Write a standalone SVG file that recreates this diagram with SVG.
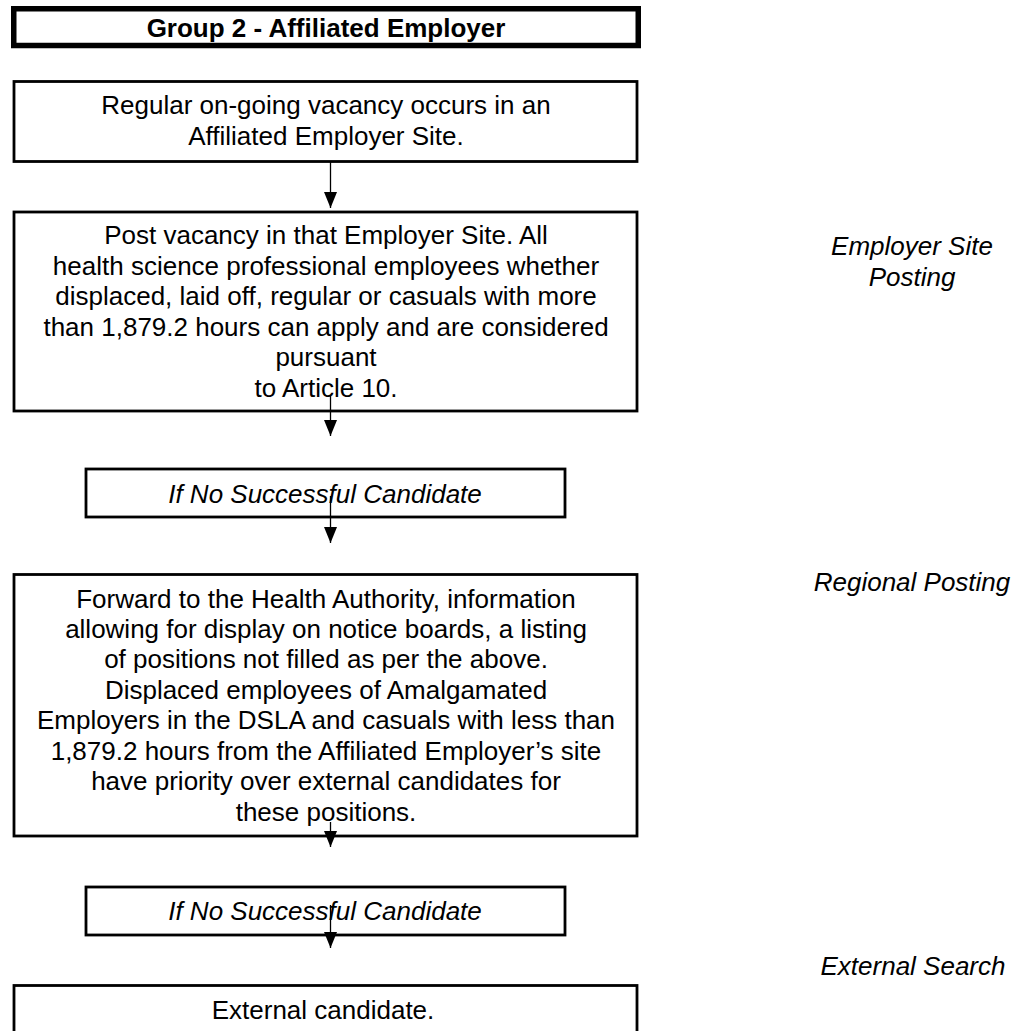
<svg xmlns="http://www.w3.org/2000/svg" width="1028" height="1031" viewBox="0 0 1028 1031">
  <style>
    .box { fill: #ffffff; stroke: #000000; stroke-width: 2.8; }
    .title-box { fill: #ffffff; stroke: #000000; stroke-width: 5.5; }
    .t { font-family: "Liberation Sans", Arial, sans-serif; font-size: 26px; fill: #000000; text-anchor: middle; }
    .b { font-weight: bold; }
    .i { font-style: italic; }
    .conn { stroke: #000000; stroke-width: 1.3; fill: none; marker-end: url(#arrow); }
  </style>
  <defs>
    <marker id="arrow" viewBox="0 0 16 13" refX="16" refY="6.5" markerWidth="16" markerHeight="13" markerUnits="userSpaceOnUse" orient="auto">
      <path d="M0,0 L16,6.5 L0,13 z" fill="#000000"/>
    </marker>
  </defs>
  <rect width="1028" height="1031" fill="#ffffff"/>

  <g id="title">
    <rect class="title-box" x="13.75" y="8.75" width="624.5" height="36.75"/>
    <text class="t b" x="326" y="37">Group 2 - Affiliated Employer</text>
  </g>

  <g id="vacancy">
    <rect class="box" x="14" y="81.5" width="623" height="80"/>
    <text class="t" x="326" y="114">Regular on-going vacancy occurs in an</text>
    <text class="t" x="326" y="145">Affiliated Employer Site.</text>
  </g>

  <g id="site-posting">
    <rect class="box" x="14" y="212" width="623" height="199"/>
    <text class="t" x="326" y="244">Post vacancy in that Employer Site. All</text>
    <text class="t" x="326" y="274.6">health science professional employees whether</text>
    <text class="t" x="326" y="305.2">displaced, laid off, regular or casuals with more</text>
    <text class="t" x="326" y="335.8">than 1,879.2 hours can apply and are considered</text>
    <text class="t" x="326" y="366.4">pursuant</text>
    <text class="t" x="326" y="397">to Article 10.</text>
  </g>

  <g id="no-candidate-1">
    <rect class="box" x="86" y="469" width="479" height="48"/>
    <text class="t i" x="325" y="503">If No Successful Candidate</text>
  </g>

  <g id="regional">
    <rect class="box" x="14" y="574.5" width="623" height="261.5"/>
    <text class="t" x="326" y="607.5">Forward to the Health Authority, information</text>
    <text class="t" x="326" y="637.5">allowing for display on notice boards, a listing</text>
    <text class="t" x="326" y="668">of positions not filled as per the above.</text>
    <text class="t" x="326" y="698.5">Displaced employees of Amalgamated</text>
    <text class="t" x="326" y="729">Employers in the DSLA and casuals with less than</text>
    <text class="t" x="326" y="759.5">1,879.2 hours from the Affiliated Employer’s site</text>
    <text class="t" x="326" y="790">have priority over external candidates for</text>
    <text class="t" x="326" y="820.5">these positions.</text>
  </g>

  <g id="no-candidate-2">
    <rect class="box" x="86" y="887" width="479" height="48"/>
    <text class="t i" x="325" y="920">If No Successful Candidate</text>
  </g>

  <g id="external">
    <rect class="box" x="14" y="985.5" width="623" height="60"/>
    <text class="t" x="323" y="1019">External candidate.</text>
  </g>

  <g id="side-labels">
    <text class="t i" x="912" y="255">Employer Site</text>
    <text class="t i" x="912" y="286">Posting</text>
    <text class="t i" x="912" y="591">Regional Posting</text>
    <text class="t i" x="913" y="975">External Search</text>
  </g>

  <g id="connectors">
    <line class="conn" x1="330.5" y1="162" x2="330.5" y2="208"/>
    <line class="conn" x1="330.5" y1="395" x2="330.5" y2="436"/>
    <line class="conn" x1="330.5" y1="496" x2="330.5" y2="543"/>
    <line class="conn" x1="330.5" y1="822" x2="330.5" y2="847"/>
    <line class="conn" x1="330.5" y1="905" x2="330.5" y2="948"/>
  </g>
</svg>
